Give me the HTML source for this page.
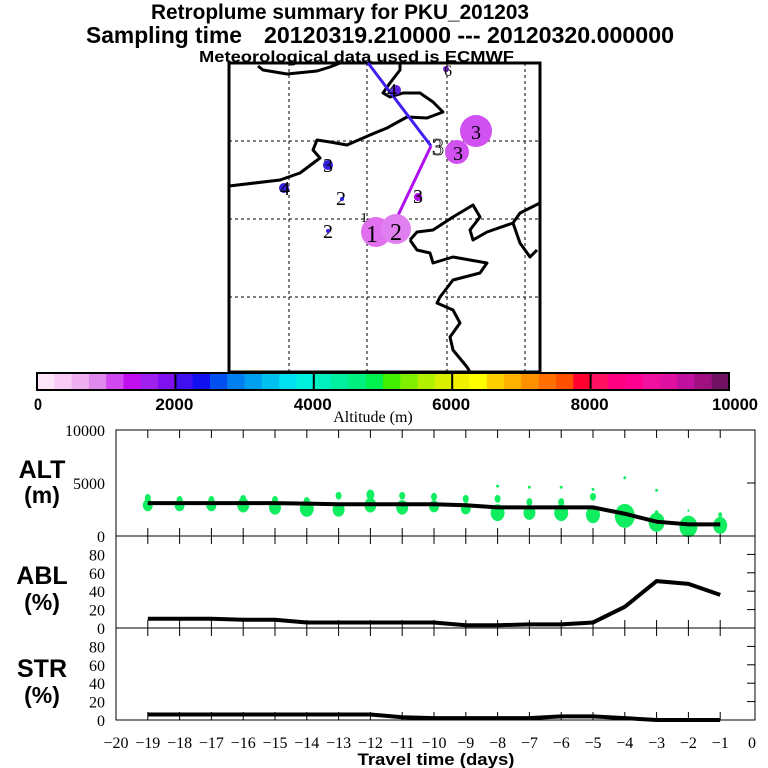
<!DOCTYPE html>
<html><head><meta charset="utf-8"><style>html,body{margin:0;padding:0;background:#fff}svg{display:block}</style></head>
<body>
<svg id="chart" width="768" height="768" xmlns="http://www.w3.org/2000/svg" font-family="Liberation Sans, sans-serif">
<g font-weight="bold" fill="#000">
<text x="151" y="19" font-size="21" textLength="378" lengthAdjust="spacingAndGlyphs">Retroplume summary for PKU_201203</text>
<text x="86" y="43" font-size="23" textLength="156" lengthAdjust="spacingAndGlyphs">Sampling time</text>
<text x="264" y="43" font-size="23" textLength="410" lengthAdjust="spacingAndGlyphs">20120319.210000 --- 20120320.000000</text>
<text x="199" y="62" font-size="16" textLength="315" lengthAdjust="spacingAndGlyphs">Meteorological data used is ECMWF</text>
</g>
<g id="map">
<rect x="229" y="63" width="311" height="309" fill="none" stroke="#000" stroke-width="3"/>
<g stroke="#000" stroke-width="1" stroke-dasharray="3,3">
<line x1="289" y1="63" x2="289" y2="372"/><line x1="367" y1="63" x2="367" y2="372"/><line x1="447" y1="63" x2="447" y2="372"/><line x1="525" y1="63" x2="525" y2="372"/>
<line x1="229" y1="141" x2="540" y2="141"/><line x1="229" y1="219" x2="540" y2="219"/><line x1="229" y1="297" x2="540" y2="297"/>
</g>
<g fill="none" stroke="#000" stroke-width="3" stroke-linejoin="round">
<polyline points="258,66 263,70 287,74 317,71 330,67 340,63"/>
<polyline points="229,186 280,180 300,173 320,158 313,150 317,140 330,142 347,145 370,135 387,128 407,117 427,118 443,112 433,102 420,93 403,93 390,97 383,93 390,83 400,70 400,63"/>
<polyline points="410,240 417,232 433,230 453,217 473,205 480,217 470,230 473,240 487,232 513,223 520,213 540,203"/>
<polyline points="513,223 520,243 530,257 537,250"/>
<polyline points="410,240 417,250 430,253 433,263 453,257 487,263 480,273 453,280 440,297 437,303 453,310 460,323 450,337 453,350 467,367 470,372"/>
</g>
<g stroke-width="3">
<line x1="368" y1="63" x2="431" y2="146" stroke="#4020f0"/>
<line x1="431" y1="146" x2="392" y2="228" stroke="#b010f0"/>
</g>
<g font-family="Liberation Serif, serif" font-size="20" text-anchor="middle">
<circle cx="476" cy="131" r="16" fill="#d050f0"/><text x="476" y="139" fill="#000">3</text>
<circle cx="457" cy="152" r="12" fill="#d050f0"/><text x="458" y="160" fill="#000">3</text>
<text x="438" y="155" fill="#fff" stroke="#000" stroke-width="0.8" font-size="24">3</text>
<circle cx="376" cy="232" r="15" fill="#e070f0"/><circle cx="396" cy="229" r="15" fill="#e080f0"/>
<text x="372" y="242" font-size="24">1</text><text x="396" y="240" font-size="24">2</text>
<circle cx="396" cy="90" r="5" fill="#6020e0"/><text x="392" y="97">4</text>
<circle cx="446" cy="69" r="3" fill="#8020e0"/><text x="448" y="76" font-size="16">6</text>
<circle cx="328" cy="165" r="5" fill="#3020e0"/><text x="328" y="172">3</text>
<circle cx="284" cy="188" r="5" fill="#3020e0"/><text x="285" y="195">4</text>
<text x="341" y="205">2</text><circle cx="342" cy="199" r="2" fill="#3020e0"/>
<text x="328" y="238">2</text><circle cx="328" cy="231" r="2" fill="#3020e0"/>
<circle cx="418" cy="197" r="4" fill="#b010e0"/><text x="418" y="203">3</text>
<text x="364" y="222" font-size="14">1</text>
</g>
</g>
<g id="colorbar"></g>
<text x="373" y="422" font-family="Liberation Serif, serif" font-size="16" text-anchor="middle">Altitude (m)</text>
<g id="panels"></g>
<g>
<g id="xlabels"></g>
<text x="436" y="765" font-size="17" font-weight="bold" text-anchor="middle" textLength="157" lengthAdjust="spacingAndGlyphs">Travel time (days)</text>
</g>
</svg>
<script>
const days=[-19,-18,-17,-16,-15,-14,-13,-12,-11,-10,-9,-8,-7,-6,-5,-4,-3,-2,-1];
const altMean=[3100,3100,3100,3100,3100,3050,3000,3000,3000,3000,2900,2700,2700,2700,2700,2100,1350,1100,1100];
const altBlobMain=[2900,2900,2900,2900,2700,2600,2500,2900,2700,2800,2600,2200,2200,2200,2000,1900,1300,900,1000];
const altBlobMainSize=[5,5,5,6,6,7,6,6,6,5,5,7,6,7,7,10,8,9,7];
const altBlobHigh=[3600,3400,3400,3500,3400,3300,3800,3900,3800,3700,3500,3500,3200,3200,3700,2500,2200,2400,2000];
const altBlobHighSize=[3,3,3,3,3,3,3,4,3,3,3,3,3,3,3,3,2,1,2];
const altTopSpeck=[0,0,0,0,0,0,0,0,0,0,0,4700,4600,4600,4400,5500,4300,0,0];
const ablPct=[10,10,10,9,9,6,6,6,6,6,3,3,4,4,6,23,51,48,36];
const strPct=[6,6,6,6,6,6,6,6,3,2,2,2,2,4,4,2,0,0,0];
const cbColors=["#fde6fa","#f8ccf6","#f0b0f0","#e088ec","#d048f0","#c010f0","#a020f0","#8010f0","#4010f0","#1010f0","#0050f0","#0080f0","#00a0f0","#00c0f0","#00e0f0","#00f0e0","#00f0c0","#00f0a0","#00f080","#00f050","#40f000","#80f000","#b0f000","#d8f000","#f0f000","#ffff00","#ffd000","#ffb000","#ff9000","#ff7000","#ff5000","#ff0030","#ff1060","#ff0080","#ff0090","#f010a0","#e010a0","#c010a0","#a01080","#701060"];
const cbTicks=[0,2000,4000,6000,8000,10000];
const altTicks=[0,5000,10000];
const pctTicks=[0,20,40,60,80];

const NS="http://www.w3.org/2000/svg";
function mk(tag,attrs,parent){const e=document.createElementNS(NS,tag);for(const k in attrs)e.setAttribute(k,attrs[k]);parent.appendChild(e);return e;}
const X=d=>116+(d+20)*31.8;
const cb=document.getElementById('colorbar');
const cbX=v=>37+v/10000*692;
cbColors.forEach((c,i)=>{const r=mk('rect',{x:cbX(i*250),y:373,width:692/40+0.5,height:17,fill:c},cb);

});
mk('rect',{x:37,y:373,width:692,height:17,fill:'none',stroke:'#000','stroke-width':2},cb);
cbTicks.forEach(v=>{if(v>0&&v<10000)mk('line',{x1:cbX(v),y1:373,x2:cbX(v),y2:390,stroke:'#000','stroke-width':2},cb);
const t=mk('text',{x:cbX(v)+(v===0?-3:v===10000?-17:-20),y:410,'font-size':17,'font-weight':'bold',textLength:v===0?8:v===10000?46:38,lengthAdjust:'spacingAndGlyphs'},cb);t.textContent=v;

});
const P=document.getElementById('panels');
const panels=[{name:'alt',top:430,bot:536,max:10000,ticks:altTicks,l1:'ALT',l2:'(m)'},{name:'abl',top:536,bot:628,max:100,ticks:pctTicks,l1:'ABL',l2:'(%)'},{name:'str',top:628,bot:720,max:100,ticks:pctTicks,l1:'STR',l2:'(%)'}];
panels.forEach(p=>{
const g=mk('g',{},P);


const Y=v=>p.bot-v/p.max*(p.bot-p.top);
p.Y=Y;
mk('rect',{x:116,y:p.top,width:639,height:p.bot-p.top,fill:'none',stroke:'#000','stroke-width':1},g);
days.forEach(d=>{mk('line',{x1:X(d),y1:p.top,x2:X(d),y2:p.top+8,stroke:'#000'},g);mk('line',{x1:X(d),y1:p.bot,x2:X(d),y2:p.bot-8,stroke:'#000'},g);});
p.ticks.forEach(v=>{const y=Y(v);mk('line',{x1:755,y1:y,x2:747,y2:y,stroke:'#000'},g);
const t=mk('text',{x:105,y:y+6,'font-size':16,'font-family':'Liberation Serif, serif','text-anchor':'end'},g);t.textContent=v;

});
const a=mk('text',{x:42,y:p.name==='alt'?478:p.name==='abl'?584:677,'font-size':25,'font-weight':'bold','text-anchor':'middle'},g);a.textContent=p.l1;


const b=mk('text',{x:42,y:p.name==='alt'?503:p.name==='abl'?610:703,'font-size':23,'font-weight':'bold','text-anchor':'middle'},g);b.textContent=p.l2;


p.g=g;});
const pa=panels[0];
days.forEach((d,i)=>{
const e1=mk('ellipse',{cx:X(d),cy:pa.Y(altBlobMain[i]),rx:altBlobMainSize[i],ry:altBlobMainSize[i]*1.2,fill:'#10ee60'},pa.g);


const e2=mk('ellipse',{cx:X(d),cy:pa.Y(altBlobHigh[i]),rx:altBlobHighSize[i],ry:altBlobHighSize[i]*1.3,fill:'#10ee60'},pa.g);


if(altTopSpeck[i]>0){const e3=mk('circle',{cx:X(d),cy:pa.Y(altTopSpeck[i]),r:1.5,fill:'#10ee60'},pa.g);

}
});
function line(p,vals,name){const pl=mk('polyline',{points:days.map((d,i)=>X(d)+','+p.Y(vals[i])).join(' '),fill:'none',stroke:'#000','stroke-width':4},p.g);

}
line(panels[0],altMean,'alt-mean-line');
line(panels[1],ablPct,'abl-line');
line(panels[2],strPct,'str-line');
const xl=document.getElementById('xlabels');
for(let d=-20;d<=0;d++){const t=mk('text',{x:X(d),y:748,'font-size':16,'font-family':'Liberation Serif, serif','text-anchor':'middle'},xl);t.textContent=d===0?'0':'\u2212'+(-d);

}
</script>
</body></html>
